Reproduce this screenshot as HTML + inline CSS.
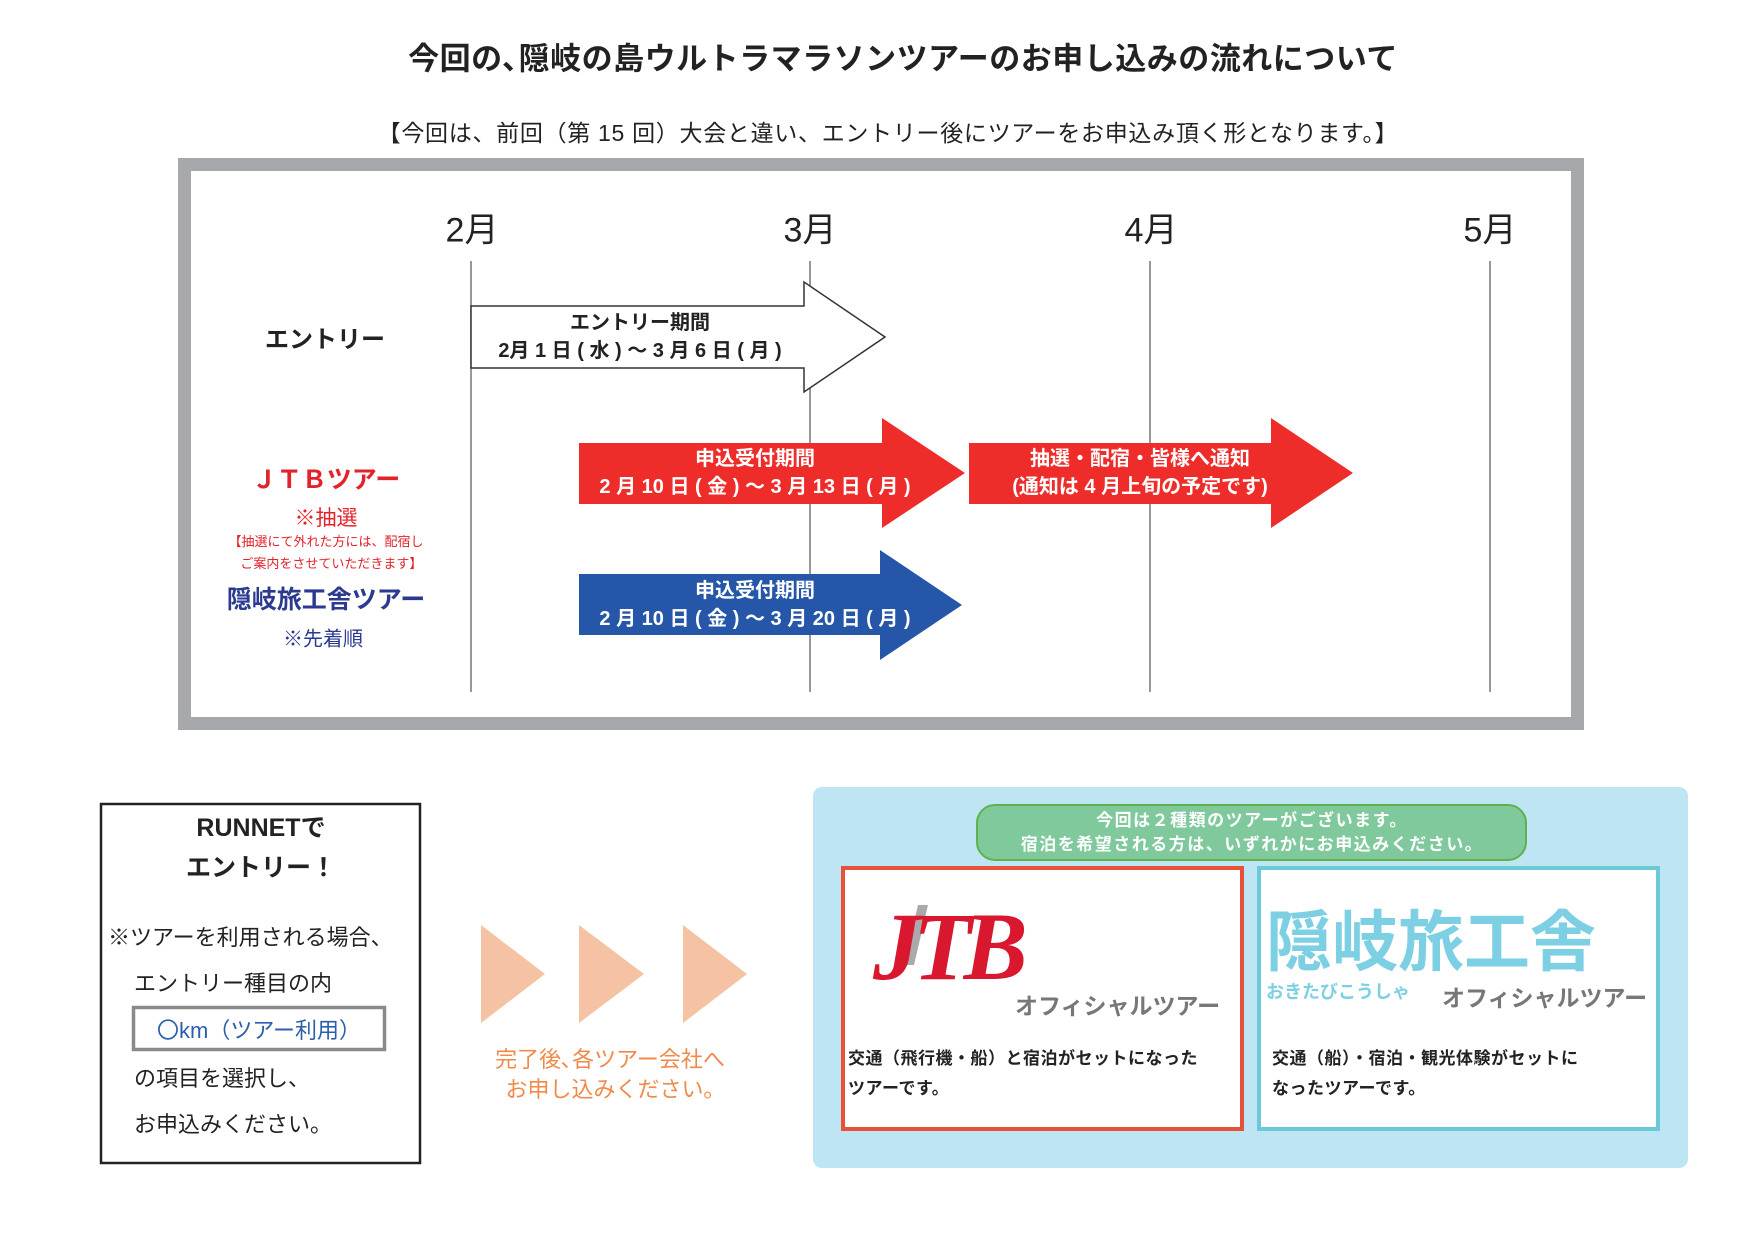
<!DOCTYPE html>
<html><head><meta charset="utf-8"><style>
body{margin:0;width:1754px;height:1240px;background:#fff;position:relative;overflow:hidden;font-family:"Liberation Sans","Noto Sans CJK JP",sans-serif;}
.a{position:absolute;white-space:nowrap;}
.c{transform:translate(-50%,-50%);text-align:center;}
.l{transform:translateY(-50%);}
.b{font-weight:bold;}
</style></head><body>
<svg width="1754" height="1240" style="position:absolute;left:0;top:0">
<rect x="184.5" y="164.5" width="1393" height="559" fill="#fff" stroke="#a7a8ab" stroke-width="13"/>
<g stroke="#777" stroke-width="1.5">
<line x1="471" y1="261" x2="471" y2="692"/><line x1="810" y1="261" x2="810" y2="692"/>
<line x1="1150" y1="261" x2="1150" y2="692"/><line x1="1490" y1="261" x2="1490" y2="692"/>
</g>
<polygon points="471,306 804,306 804,282 885,337 804,392 804,368 471,368" fill="#fff" stroke="#333" stroke-width="1.5"/>
<polygon points="579,443 882,443 882,418 965,473 882,528 882,504 579,504" fill="#ee2d2a"/>
<polygon points="969,443 1271,443 1271,418 1353,473 1271,528 1271,504 969,504" fill="#ee2d2a"/>
<polygon points="579,574 880,574 880,550 962,605 880,660 880,635 579,635" fill="#2556a8"/>
<rect x="101" y="804" width="319" height="359" fill="#fff" stroke="#222" stroke-width="2.5"/>
<rect x="133.5" y="1007.5" width="251" height="42" fill="#fff" stroke="#8a8a8a" stroke-width="3.5"/>
<g fill="#f5c3a4">
<polygon points="481,925 545,974 481,1023"/><polygon points="579,925 644,974 579,1023"/><polygon points="683,925 747,974 683,1023"/>
</g>
<rect x="813" y="787" width="875" height="381" rx="9" fill="#bde5f4"/>
<rect x="977" y="805" width="549" height="55" rx="18" fill="#7fc99c" stroke="#5fb24a" stroke-width="2"/>
<rect x="843" y="868" width="399" height="261" fill="#fff" stroke="#e8503a" stroke-width="4"/>
<rect x="1259" y="868" width="399" height="261" fill="#fff" stroke="#6ccad8" stroke-width="4"/>
<polygon points="918,905 928,905 914,965 904,965" fill="#aaa"/>
</svg>
<div class="a c b" style="left:903px;top:56px;font-size:31px;color:#222;letter-spacing:0.5px">今回の､隠岐の島ウルトラマラソンツアーのお申し込みの流れについて</div>
<div class="a c" style="left:888px;top:131px;font-size:23px;color:#222;letter-spacing:0.7px">【今回は、前回（第 15 回）大会と違い、エントリー後にツアーをお申込み頂く形となります。】</div>
<div class="a c" style="left:472px;top:227px;font-size:34px;color:#222">2月</div>
<div class="a c" style="left:810px;top:227px;font-size:34px;color:#222">3月</div>
<div class="a c" style="left:1151px;top:227px;font-size:34px;color:#222">4月</div>
<div class="a c" style="left:1490px;top:227px;font-size:34px;color:#222">5月</div>
<div class="a c b" style="left:325px;top:337px;font-size:24px;color:#222">エントリー</div>
<div class="a c b" style="left:640px;top:337px;font-size:20px;line-height:28px;color:#222">エントリー期間<br>2月 1 日 ( 水 ) ～ 3 月 6 日 ( 月 )</div>
<div class="a c b" style="left:755px;top:473px;font-size:20px;line-height:28px;color:#fff">申込受付期間<br>2 月 10 日 ( 金 ) ～ 3 月 13 日 ( 月 )</div>
<div class="a c b" style="left:1140px;top:473px;font-size:20px;line-height:28px;color:#fff">抽選・配宿・皆様へ通知<br>(通知は 4 月上旬の予定です)</div>
<div class="a c b" style="left:755px;top:605px;font-size:20px;line-height:28px;color:#fff">申込受付期間<br>2 月 10 日 ( 金 ) ～ 3 月 20 日 ( 月 )</div>
<div class="a c b" style="left:326px;top:478px;font-size:25px;color:#e3232b">ＪＴＢツアー</div>
<div class="a c" style="left:326px;top:517px;font-size:21px;color:#e3232b">※抽選</div>
<div class="a c" style="left:326px;top:553px;font-size:13px;line-height:22px;color:#e3232b">【抽選にて外れた方には、配宿し<br>&nbsp;&nbsp;&nbsp;ご案内をさせていただきます】</div>
<div class="a c b" style="left:326px;top:598px;font-size:25px;color:#2b3990">隠岐旅工舎ツアー</div>
<div class="a c" style="left:323px;top:637px;font-size:20px;color:#2b3990">※先着順</div>
<div class="a c b" style="left:261px;top:848px;font-size:25px;line-height:40px;color:#222">RUNNETで<br>エントリー！</div>
<div class="a l" style="left:108px;top:936px;font-size:22px;color:#222">※ツアーを利用される場合、</div>
<div class="a l" style="left:134px;top:982px;font-size:22px;color:#222">エントリー種目の内</div>
<div class="a c" style="left:259px;top:1029px;font-size:22px;color:#2b5fad">〇km（ツアー利用）</div>
<div class="a l" style="left:134px;top:1077px;font-size:22px;color:#222">の項目を選択し、</div>
<div class="a l" style="left:134px;top:1123px;font-size:22px;color:#222">お申込みください。</div>
<div class="a c" style="left:610px;top:1075px;font-size:22px;line-height:30px;color:#f08a4b">完了後､各ツアー会社へ<br>お申し込みください｡</div>
<div class="a c b" style="left:1252px;top:833px;font-size:17px;line-height:24px;color:#fff;letter-spacing:1.5px">今回は２種類のツアーがございます。<br>宿泊を希望される方は、いずれかにお申込みください。</div>
<div class="a b" style="left:873px;top:892px;font-size:96px;font-style:italic;color:#d9172f;letter-spacing:-8px;font-family:'Liberation Serif',serif;line-height:110px">JTB</div>
<div class="a l b" style="left:1015px;top:1004px;font-size:23px;color:#777">オフィシャルツアー</div>
<div class="a b" style="left:848px;top:1044px;font-size:17px;line-height:30px;color:#222;letter-spacing:0.5px">交通（飛行機・船）と宿泊がセットになった<br>ツアーです。</div>
<div class="a l b" style="left:1266px;top:937px;font-size:66px;color:#7dd0e3;letter-spacing:0px">隠岐旅工舎</div>
<div class="a l b" style="left:1266px;top:991px;font-size:18px;color:#7dd0e3">おきたびこうしゃ</div>
<div class="a l b" style="left:1442px;top:996px;font-size:23px;color:#777">オフィシャルツアー</div>
<div class="a b" style="left:1272px;top:1044px;font-size:17px;line-height:30px;color:#222;letter-spacing:0.5px">交通（船）・宿泊・観光体験がセットに<br>なったツアーです。</div>
</body></html>
